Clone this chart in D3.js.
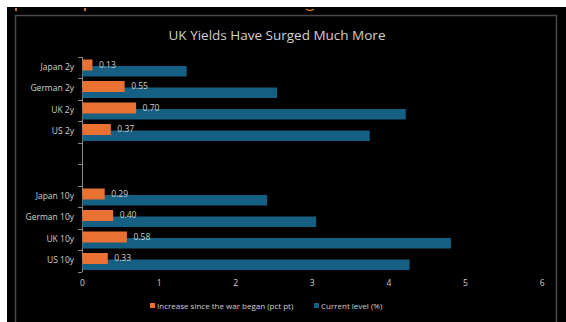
<!DOCTYPE html>
<html>
<head>
<meta charset="utf-8">
<script src="https://cdn.jsdelivr.net/npm/d3@7"></script>
<style>
  body { margin: 0; background: #fff; }
  svg { display: block; font-family: "Open Sans", "Noto Sans", sans-serif; }
</style>
</head>
<body>
<script>
// datos del grafico
const categories = ["Japan 2y", "German 2y", "UK 2y", "US 2y", "", " ", "Japan 10y", "German 10y", "UK 10y", "US 10y"];
const increase = [0.13, 0.55, 0.70, 0.37, null, null, 0.29, 0.40, 0.58, 0.33];
const current = [1.36, 2.54, 4.22, 3.75, null, null, 2.41, 3.05, 4.81, 4.27];
const xTicks = [0, 1, 2, 3, 4, 5, 6];
const seriesNames = ["Increase since the war began (pct pt)", "Current level (%)"];
const title = "UK Yields Have Surged Much More";

const W = 566, H = 322;
const orange = "#E97132", blue = "#156082";
const textColor = "#d0d0d0";

const svg = d3.select("body").append("svg")
  .attr("width", W)
  .attr("height", H);

// fondo negro y marco
svg.append("rect").attr("x", 7).attr("y", 7).attr("width", W - 7).attr("height", H - 7).attr("fill", "#000");
svg.append("rect").attr("x", 15.5).attr("y", 15.5).attr("width", 541).attr("height", 320)
  .attr("fill", "none").attr("stroke", "#4a4a4a").attr("stroke-width", 1.5);
// restos del titulo de arriba
svg.append("rect").attr("x", 15).attr("y", 8).attr("width", 2).attr("height", 3).attr("fill", "#c8761f");
svg.append("rect").attr("x", 84).attr("y", 8).attr("width", 2).attr("height", 3).attr("fill", "#c8761f");
svg.append("path").attr("d", "M306,9 Q310,12 314,9").attr("fill", "none").attr("stroke", "#c8761f").attr("stroke-width", 1.5);

svg.append("text")
  .attr("x", 277).attr("y", 40)
  .attr("text-anchor", "middle")
  .attr("fill", textColor)
  .style("font-size", "13.5px")
  .text(title);

const x = d3.scaleLinear().domain([0, 6]).range([82, 541.6]);
const y = d3.scaleBand().domain(categories).range([56.5, 271.5]);

// ejes
const yAxis = svg.append("g")
  .attr("transform", "translate(82,0)")
  .call(d3.axisLeft(y).tickSize(0).tickPadding(8));
yAxis.select(".domain").attr("stroke", "#8a8a8a");
yAxis.selectAll("text").attr("fill", textColor).style("font-size", "8.5px")
  .style("font-family", "'Open Sans', sans-serif");

// marcas entre categorias
svg.append("g").selectAll("line")
  .data(d3.range(categories.length + 1))
  .join("line")
  .attr("x1", 78).attr("x2", 82)
  .attr("y1", i => Math.round(y.range()[0] + i * y.step()) + 0.5)
  .attr("y2", i => Math.round(y.range()[0] + i * y.step()) + 0.5)
  .attr("stroke", "#8a8a8a");

const xAxis = svg.append("g")
  .attr("transform", "translate(0,280)")
  .call(d3.axisBottom(x).tickValues(xTicks).tickFormat(d3.format("d")).tickSize(0).tickPadding(0));
xAxis.select(".domain").remove();
xAxis.selectAll("text").attr("fill", textColor).style("font-size", "8.5px")
  .style("font-family", "'Open Sans', sans-serif");

const rows = categories.map((c, i) => ({ c, inc: increase[i], cur: current[i] })).filter(d => d.inc != null);

// barras azules (nivel actual)
svg.append("g").selectAll("rect")
  .data(rows)
  .join("rect")
  .attr("x", x(0) + 0.5)
  .attr("y", d => y(d.c) + 9.5)
  .attr("width", d => x(d.cur) - x(0))
  .attr("height", 10.5)
  .attr("fill", blue);

// barras naranjas (aumento)
svg.append("g").selectAll("rect")
  .data(rows)
  .join("rect")
  .attr("x", x(0) + 0.5)
  .attr("y", d => y(d.c) + 3)
  .attr("width", d => x(d.inc) - x(0))
  .attr("height", 11)
  .attr("fill", orange);

// etiquetas de valores
svg.append("g").selectAll("text")
  .data(rows)
  .join("text")
  .attr("x", d => x(d.inc) + 7)
  .attr("y", d => y(d.c) + 8.5)
  .attr("dy", "0.35em")
  .attr("fill", textColor)
  .style("font-size", "8.5px")
  .text(d => d.inc.toFixed(2));

// leyenda
const legend = svg.append("g").attr("transform", "translate(0,306)");
const items = [
  { name: seriesNames[0], color: orange, x: 150 },
  { name: seriesNames[1], color: blue, x: 314 }
];
const li = legend.selectAll("g").data(items).join("g")
  .attr("transform", d => `translate(${d.x},0)`);
li.append("rect").attr("x", 0).attr("y", -3).attr("width", 5).attr("height", 5).attr("fill", d => d.color);
li.append("text").attr("x", 7).attr("dy", "0.32em")
  .attr("fill", textColor)
  .style("font-size", "8px")
  .text(d => d.name);
</script>
</body>
</html>
